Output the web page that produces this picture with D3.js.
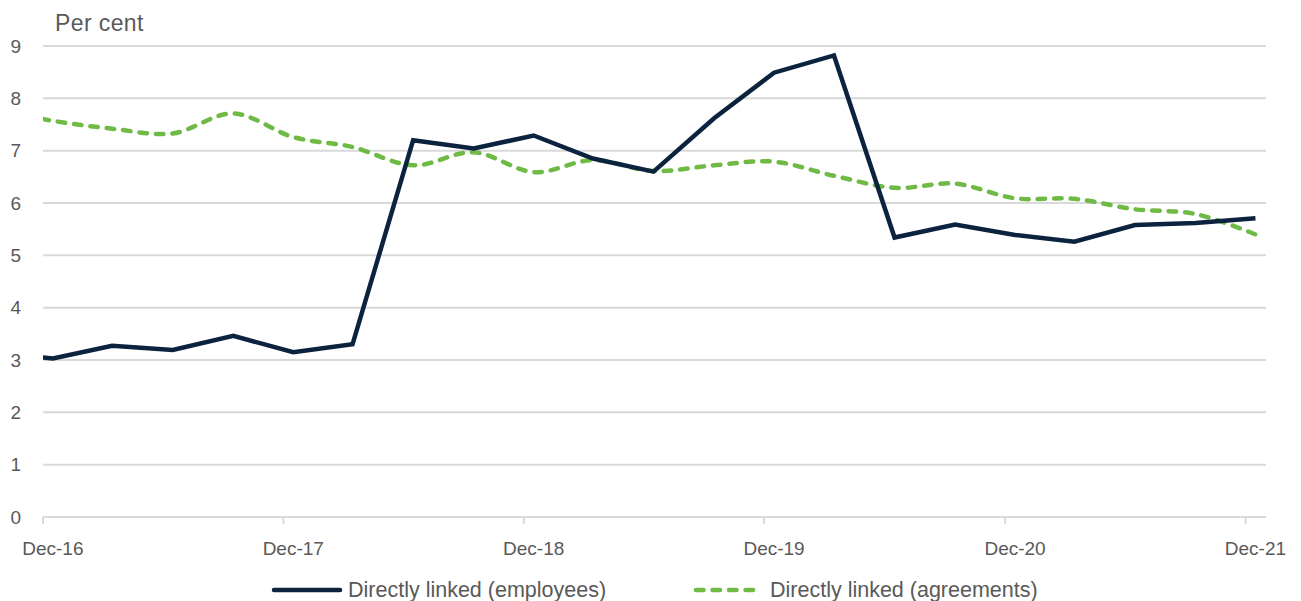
<!DOCTYPE html>
<html>
<head>
<meta charset="utf-8">
<script src="https://cdn.jsdelivr.net/npm/d3@7"></script>
<style>
  html, body { margin: 0; padding: 0; background: #fff; }
  svg { display: block; font-family: "Liberation Sans", Arial, sans-serif; }
</style>
</head>
<body>
<svg id="chart" width="1301" height="601"></svg>
<script>
// Quarterly observations (mid-month of each quarter end), Sep-16 to Dec-21
const quarters = [
  "2016-09-16", "2016-12-16",
  "2017-03-16", "2017-06-16", "2017-09-16", "2017-12-16",
  "2018-03-16", "2018-06-16", "2018-09-16", "2018-12-16",
  "2019-03-16", "2019-06-16", "2019-09-16", "2019-12-16",
  "2020-03-16", "2020-06-16", "2020-09-16", "2020-12-16",
  "2021-03-16", "2021-06-16", "2021-09-16", "2021-12-16"
];
const employees = [
  3.15, 3.03,
  3.27, 3.19, 3.46, 3.15,
  3.30, 7.20, 7.04, 7.29,
  6.85, 6.60, 7.62, 8.49,
  8.82, 5.34, 5.59, 5.39,
  5.26, 5.58, 5.62, 5.71
];
const agreements = [
  7.80, 7.57,
  7.42, 7.33, 7.71, 7.26,
  7.07, 6.72, 6.97, 6.59,
  6.82, 6.61, 6.72, 6.79,
  6.52, 6.29, 6.37, 6.09,
  6.08, 5.88, 5.79, 5.40
];
const yTicks = [0, 1, 2, 3, 4, 5, 6, 7, 8, 9];
const xTickLabels = ["Dec-16", "Dec-17", "Dec-18", "Dec-19", "Dec-20", "Dec-21"];
const seriesNames = ["Directly linked (employees)", "Directly linked (agreements)"];

const parse = d3.timeParse("%Y-%m-%d");
const dates = quarters.map(parse);
const fmtLabel = d3.timeFormat("%b-%y");

const svg = d3.select("#chart");
const margin = { left: 43, right: 1266, top: 46, bottom: 517 };

const x = d3.scaleTime()
  .domain([new Date(2016, 11, 1), new Date(2022, 0, 1)])
  .range([margin.left, margin.right]);
const y = d3.scaleLinear().domain([0, 9]).range([margin.bottom, margin.top]);

const textColor = "#595959";
const gridColor = "#d9d9d9";
const navy = "#0c2340";
const green = "#6fba45";

// Horizontal gridlines
svg.append("g")
  .selectAll("line")
  .data(yTicks)
  .join("line")
  .attr("x1", margin.left).attr("x2", margin.right)
  .attr("y1", d => y(d)).attr("y2", d => y(d))
  .attr("stroke", gridColor).attr("stroke-width", 2);

// Y tick labels
svg.append("g")
  .selectAll("text")
  .data(yTicks)
  .join("text")
  .attr("x", 21).attr("y", d => y(d))
  .attr("dy", "0.35em")
  .attr("text-anchor", "end")
  .attr("fill", textColor)
  .attr("font-size", 19)
  .text(d => d);

// Y axis title
svg.append("text")
  .attr("x", 55).attr("y", 31)
  .attr("fill", textColor)
  .attr("font-size", 23)
  .attr("letter-spacing", 0.4)
  .text("Per cent");

// X axis: yearly tick marks at the start of December, labels at mid-December
const tickDates = xTickLabels.map(s => d3.timeParse("%b-%y")(s));
const xAxis = svg.append("g");
xAxis.selectAll("line.tick")
  .data(tickDates)
  .join("line")
  .attr("class", "tick")
  .attr("x1", d => x(d)).attr("x2", d => x(d))
  .attr("y1", margin.bottom).attr("y2", margin.bottom + 7)
  .attr("stroke", gridColor).attr("stroke-width", 2);
xAxis.selectAll("text")
  .data(tickDates)
  .join("text")
  .attr("x", d => x(d3.timeDay.offset(d, 15)))
  .attr("y", 555)
  .attr("text-anchor", "middle")
  .attr("fill", textColor)
  .attr("font-size", 19)
  .text(d => fmtLabel(d));

// Clip lines to the plot area
svg.append("clipPath").attr("id", "plot-clip")
  .append("rect")
  .attr("x", margin.left).attr("y", 0)
  .attr("width", margin.right - margin.left).attr("height", margin.bottom + 5);

const plot = svg.append("g").attr("clip-path", "url(#plot-clip)");

const lineStraight = d3.line()
  .x((d, i) => x(dates[i]))
  .y(d => y(d));
const lineSmooth = d3.line()
  .x((d, i) => x(dates[i]))
  .y(d => y(d))
  .curve(d3.curveCatmullRom.alpha(0));

plot.append("path")
  .datum(agreements)
  .attr("d", lineSmooth)
  .attr("fill", "none")
  .attr("stroke", green)
  .attr("stroke-width", 4.5)
  .attr("stroke-linecap", "round")
  .attr("stroke-dasharray", "7.5,9");

plot.append("path")
  .datum(employees)
  .attr("d", lineStraight)
  .attr("fill", "none")
  .attr("stroke", navy)
  .attr("stroke-width", 4.5)
  .attr("stroke-linejoin", "miter");

// Legend
const legend = svg.append("g");
const legendItems = [
  { name: seriesNames[0], color: navy, dash: null, x0: 272 },
  { name: seriesNames[1], color: green, dash: "7.5,9", x0: 694 }
];
legendItems.forEach(it => {
  legend.append("line")
    .attr("x1", it.x0 + 2).attr("x2", it.x0 + 68)
    .attr("y1", 590).attr("y2", 590)
    .attr("stroke", it.color)
    .attr("stroke-width", 4.5)
    .attr("stroke-linecap", "round")
    .attr("stroke-dasharray", it.dash);
  legend.append("text")
    .attr("x", it.x0 + 76).attr("y", 597)
    .attr("fill", textColor)
    .attr("font-size", 21.5)
    .text(it.name);
});
</script>
</body>
</html>
